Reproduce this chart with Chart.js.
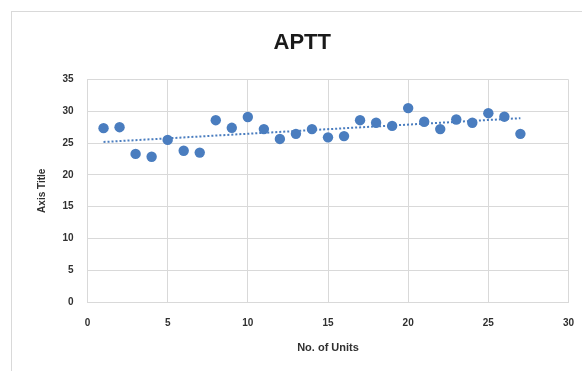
<!DOCTYPE html>
<html>
<head>
<meta charset="utf-8">
<script src="https://cdn.jsdelivr.net/npm/chart.js@4/dist/chart.umd.min.js"></script>
<style>
  html, body { margin: 0; padding: 0; background: #fff; }
  body { width: 582px; height: 371px; overflow: hidden; position: relative; }
  #frame { position: absolute; left: 11px; top: 11px; width: 620px; height: 420px; border: 1px solid #d9d9d9; box-sizing: border-box; }
  #wrap { position: absolute; left: 0; top: 0; width: 582px; height: 371px; }
</style>
</head>
<body>
<div id="frame"></div>
<div id="wrap"><canvas id="c" width="582" height="371"></canvas></div>
<script>
// APTT measured per unit
const units = [1, 2, 3, 4, 5, 6, 7, 8, 9, 10, 11, 12, 13, 14, 15, 16, 17, 18, 19, 20, 21, 22, 23, 24, 25, 26, 27];
const aptt = [27.35, 27.5, 23.3, 22.85, 25.5, 23.8, 23.5, 28.6, 27.4, 29.1, 27.2, 25.65, 26.45, 27.2,
              25.9, 26.1, 28.6, 28.2, 27.7, 30.5, 28.35, 27.2, 28.7, 28.2, 29.7, 29.15, 26.45];
const xTicks = [0, 5, 10, 15, 20, 25, 30];
const yTicks = [0, 5, 10, 15, 20, 25, 30, 35];

// least-squares linear trend over the measured units
const n = units.length;
const mx = units.reduce((a, b) => a + b, 0) / n;
const my = aptt.reduce((a, b) => a + b, 0) / n;
let sxy = 0, sxx = 0;
units.forEach((x, i) => { sxy += (x - mx) * (aptt[i] - my); sxx += (x - mx) * (x - mx); });
const slope = sxy / sxx;
const intercept = my - slope * mx;
const trendX = [units[0], units[n - 1]];
const trend = trendX.map(x => ({ x: x, y: intercept + slope * x }));

const blue = '#4a7dbf';
const grid = '#d9d9d9';
const ink = '#303030';
const font = 'Liberation Sans, Arial, sans-serif';

new Chart(document.getElementById('c'), {
  type: 'scatter',
  data: {
    datasets: [
      {
        label: 'APTT',
        data: units.map((x, i) => ({ x: x, y: aptt[i] })),
        backgroundColor: blue,
        borderColor: blue,
        pointRadius: 5.2,
        pointBorderWidth: 0,
        order: 1
      },
      {
        label: 'Linear',
        type: 'line',
        data: trend,
        borderColor: blue,
        borderWidth: 2,
        borderDash: [2, 2],
        pointRadius: 0,
        fill: false,
        order: 2
      }
    ]
  },
  options: {
    responsive: false,
    animation: false,
    devicePixelRatio: 1,
    layout: { padding: { left: 36, right: 13.5, top: 0, bottom: 0 } },
    plugins: {
      legend: { display: false },
      tooltip: { enabled: false },
      title: {
        display: true,
        text: 'APTT',
        color: '#1a1a1a',
        font: { family: font, size: 22, weight: 'bold', lineHeight: 1.2 },
        padding: { top: 30, bottom: 23.1 }
      }
    },
    scales: {
      x: {
        type: 'linear',
        min: 0,
        max: 30,
        afterBuildTicks: s => { s.ticks = xTicks.map(v => ({ value: v })); },
        afterFit: s => { s.height = 69; s.paddingLeft = 0; s.paddingRight = 0; },
        grid: { color: grid, lineWidth: 1, drawTicks: false },
        border: { color: grid, width: 1 },
        ticks: { padding: 15, color: ink, font: { family: font, size: 10, weight: 'bold' } },
        title: {
          display: true,
          text: 'No. of Units',
          color: ink,
          font: { family: font, size: 11, weight: 'bold', lineHeight: 1.2 },
          padding: { top: 0, bottom: 16 }
        }
      },
      y: {
        type: 'linear',
        min: 0,
        max: 35,
        afterBuildTicks: s => { s.ticks = yTicks.map(v => ({ value: v })); },
        afterFit: s => { s.width = 51.5; s.paddingTop = 0; s.paddingBottom = 0; },
        grid: { color: grid, lineWidth: 1, drawTicks: false },
        border: { color: grid, width: 1 },
        ticks: { padding: 14, color: ink, font: { family: font, size: 10, weight: 'bold' } },
        title: {
          display: true,
          text: 'Axis Title',
          color: ink,
          font: { family: font, size: 10, weight: 'bold', lineHeight: 1.2 },
          padding: { top: 0, bottom: 0 }
        }
      }
    }
  }
});
</script>
</body>
</html>
